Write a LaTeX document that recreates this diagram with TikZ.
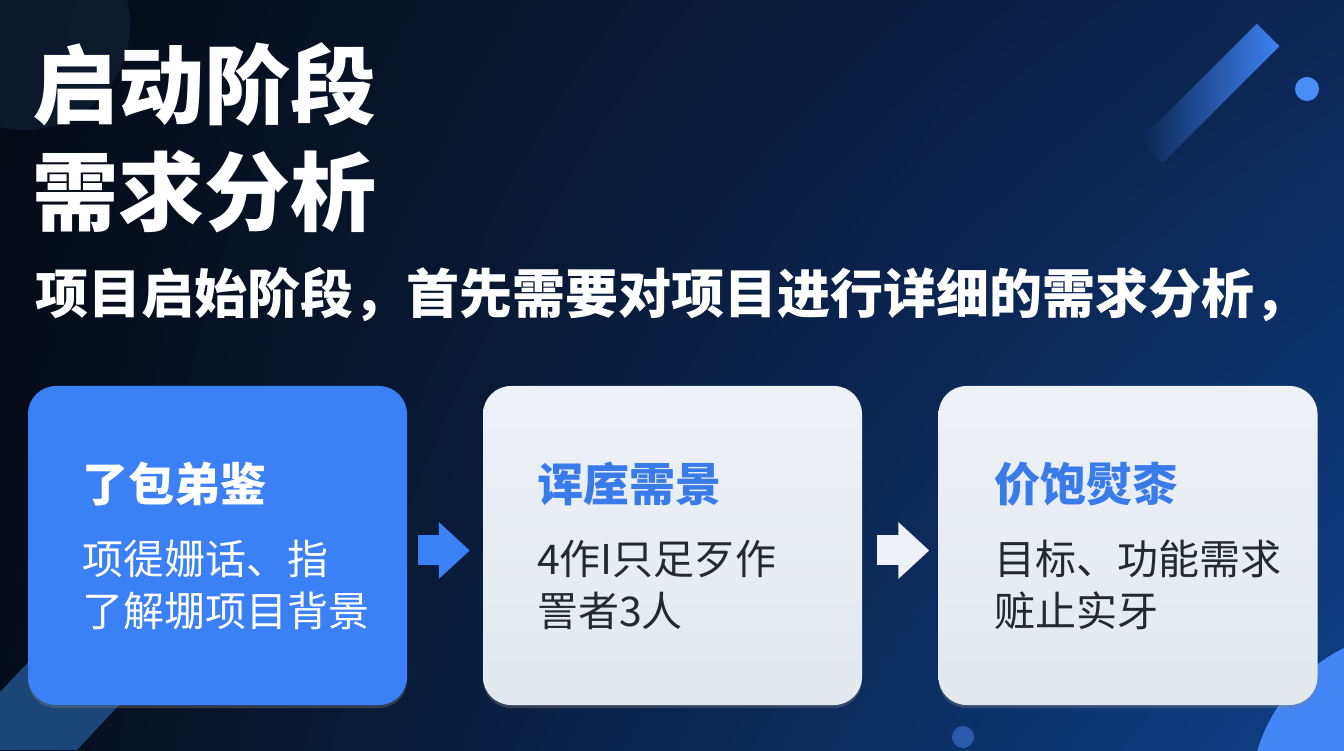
\documentclass[tikz,border=0pt]{standalone}
\usepackage{fontspec}
\setmainfont{Noto Sans CJK SC}
\usetikzlibrary{arrows.meta,shadows,shadings}

\definecolor{bgUL}{HTML}{060B15}
\definecolor{bgUR}{HTML}{0C2654}
\definecolor{bgLL}{HTML}{060D1A}
\definecolor{bgLR}{HTML}{0F4088}
\definecolor{cardblue}{HTML}{3B80F5}
\definecolor{cardtop}{HTML}{EEF1F7}
\definecolor{cardbot}{HTML}{E3E8EF}
\definecolor{headblue}{HTML}{3A7BEA}
\definecolor{bodydark}{HTML}{25282D}
\definecolor{streak}{HTML}{3D82F2}
\definecolor{streakend}{HTML}{0B2450}
\definecolor{dotblue}{HTML}{4A8DF5}
\definecolor{glow}{HTML}{13233C}
\definecolor{band}{HTML}{1B4677}

\tikzset{
	card/.style={minimum width=379pt, minimum height=319pt, rounded corners=28pt,
		drop shadow={opacity=0.35, shadow xshift=0pt, shadow yshift=-3pt}},
	lightcard/.style={card, top color=cardtop, bottom color=cardbot},
	headtext/.style={anchor=base west, inner sep=0pt, font=\fontsize{46}{50}\selectfont\bfseries},
	bodytext/.style={anchor=base west, inner sep=0pt, font=\fontsize{41}{52}\selectfont},
	flow/.style={line width=30pt, -{Triangle[width=55pt, length=31pt]}}
}

\begin{document}
\begin{tikzpicture}[x=1pt, y=1pt]

		% background
		\useasboundingbox (0,0) rectangle (1344,750);
		\shade[upper left=bgUL, upper right=bgUR, lower left=bgLL, lower right=bgLR]
			(0,0) rectangle (1344,750);
		\fill[glow, opacity=0.55] (25,725) circle (105);
		\fill[band] (-54,0) -- (77,0) -- (320,260) -- (189,260) -- cycle;
		\fill[cardblue!95!white] (1420,-50) circle (170);
		\fill[cardblue!70!black] (963,13) circle (11);
		\begin{scope}[shift={(1268,715)}, rotate=45]
			\shade[left color=streakend, right color=streak] (-165,-16) rectangle (0,16);
		\end{scope}
		\fill[dotblue] (1307,661) circle (12);

		% title
		\node[anchor=base west, inner sep=0pt, white, font=\fontsize{86}{90}\selectfont\bfseries]
			(t1) at (32,632) {启动阶段};
		\node[anchor=base west, inner sep=0pt, white, font=\fontsize{86}{90}\selectfont\bfseries]
			(t2) at (32,525) {需求分析};
		\node[anchor=base west, inner sep=0pt, white, font=\fontsize{53}{56}\selectfont\bfseries]
			(sub) at (35,436) {项目启始阶段，首先需要对项目进行详细的需求分析，};

		% cards
		\node[card, fill=cardblue]	(c1) at (217.5,204.5) {};
		\node[lightcard]			(c2) at (672.5,204.5) {};
		\node[lightcard]			(c3) at (1128,204.5) {};

		% card texts
		\node[headtext, white]		(h1) at ([shift={(54,-116)}]c1.north west) {了包弟鉴};
		\node[bodytext, white]		(b1a) at ([shift={(54,-189)}]c1.north west) {项徥姗话、指};
		\node[bodytext, white]		(b1b) at ([shift={(54,-241)}]c1.north west) {了解堋项目背景};
		\node[headtext, headblue]	(h2) at ([shift={(54,-116)}]c2.north west) {诨庢需景};
		\node[bodytext, bodydark]	(b2a) at ([shift={(54,-189)}]c2.north west) {4作I只足歹作};
		\node[bodytext, bodydark]	(b2b) at ([shift={(54,-241)}]c2.north west) {詈者3人};
		\node[headtext, headblue]	(h3) at ([shift={(56,-116)}]c3.north west) {价饱熨桼};
		\node[bodytext, bodydark]	(b3a) at ([shift={(56,-189)}]c3.north west) {目标、功能需求};
		\node[bodytext, bodydark]	(b3b) at ([shift={(56,-241)}]c3.north west) {赃止实牙};

		% flow arrows
		\draw[flow, cardblue, shorten <=11pt, shorten >=13pt]
			([yshift=-5]c1.east) -- ([yshift=-5]c2.west);
		\draw[flow, cardtop, shorten <=15pt, shorten >=9pt]
			([yshift=-5]c2.east) -- ([yshift=-5]c3.west);
	\end{tikzpicture}
\end{document}
